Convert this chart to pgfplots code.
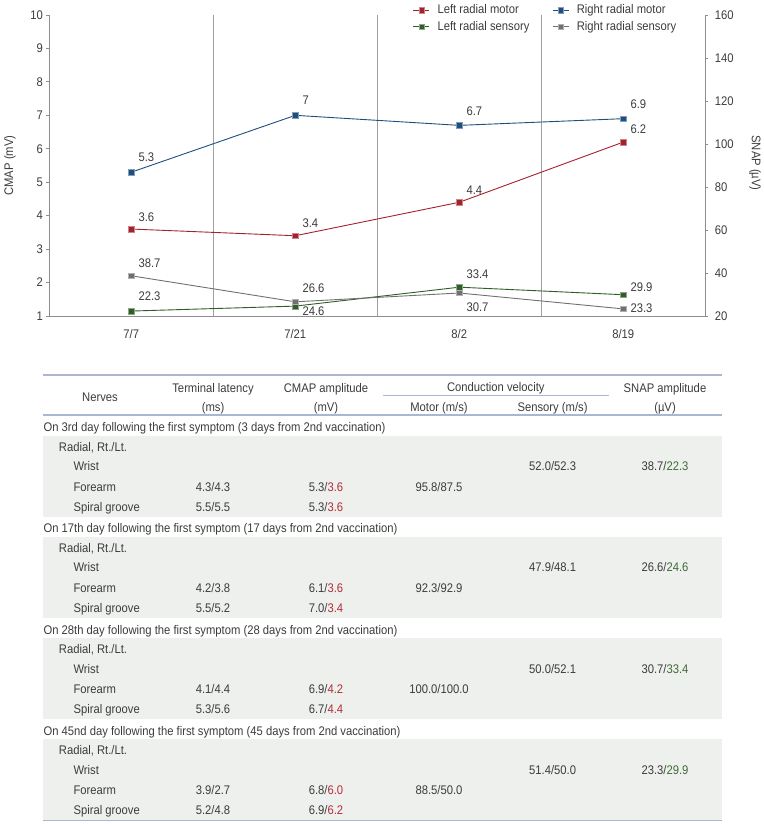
\documentclass[border=0pt]{standalone}
\usepackage{fontspec}
\setmainfont{Liberation Sans}[FakeStretch=0.9]
\usepackage{pgfplots}
\pgfplotsset{compat=1.18}
\usepackage{pgfplotstable}
\definecolor{txt}{HTML}{3C3C3C}
\definecolor{cred}{HTML}{A3222C}
\definecolor{cblue}{HTML}{1F4E80}
\definecolor{cgreen}{HTML}{2F5E27}
\definecolor{cgray}{HTML}{707070}
\definecolor{axisgray}{HTML}{8E8E8E}
\definecolor{gridgray}{HTML}{A0A0A0}
\definecolor{rulec}{HTML}{A7B8D0}
\definecolor{band}{HTML}{EEF0EE}
\definecolor{tred}{HTML}{B0303A}
\definecolor{tgreen}{HTML}{3F6B36}
\newcommand\cf{\fontsize{12.5}{15}\selectfont}
\newcommand\R[1]{\textcolor{tred}{#1}}
\newcommand\G[1]{\textcolor{tgreen}{#1}}

\pgfplotstableread{
x y lbl dy
0 3.6 3.6 12
1 3.4 3.4 13
2 4.4 4.4 12
3 6.2 6.2 13
}\leftmotor
\pgfplotstableread{
x y lbl dy
0 5.3 5.3 15
1 7.0 7 15
2 6.7 6.7 14
3 6.9 6.9 14
}\rightmotor
\pgfplotstableread{
x y lbl dy
0 22.3 22.3 15
1 24.6 24.6 -5
2 33.4 33.4 13
3 29.9 29.9 8
}\leftsens
\pgfplotstableread{
x y lbl dy
0 38.7 38.7 13
1 26.6 26.6 14
2 30.7 30.7 -14
3 23.3 23.3 1
}\rightsens

\newcommand\sect[9]{%
\fill[band] (43.3pt,{-(#1+8.6)*1pt}) rectangle (722pt,{-(#1+89.2)*1pt});
\node[T,anchor=base west] at (43.3pt,{-(#1+4.3)*1pt}) {#2};
\node[T,anchor=base west] at (58.7pt,{-(#1+23.7)*1pt}) {Radial, Rt./Lt.};
\node[T,anchor=base west] at (73.3pt,{-(#1+43.5)*1pt}) {Wrist};
\node[T,anchor=base west] at (73.3pt,{-(#1+63.7)*1pt}) {Forearm};
\node[T,anchor=base west] at (73.3pt,{-(#1+83.9)*1pt}) {Spiral groove};
\node[T,anchor=base] at (552.6pt,{-(#1+43.5)*1pt}) {#8};
\node[T,anchor=base] at (665pt,{-(#1+43.5)*1pt}) {#9};
\node[T,anchor=base] at (213pt,{-(#1+63.7)*1pt}) {#3};
\node[T,anchor=base] at (326pt,{-(#1+63.7)*1pt}) {#5};
\node[T,anchor=base] at (439pt,{-(#1+63.7)*1pt}) {#7};
\node[T,anchor=base] at (213pt,{-(#1+83.9)*1pt}) {#4};
\node[T,anchor=base] at (326pt,{-(#1+83.9)*1pt}) {#6};
}

\pgfplotsset{
  common/.style={
    at={(49.3pt,-316pt)}, anchor=south west, scale only axis,
    width=656pt, height=301pt, xmin=-0.5, xmax=3.5, clip=false,
    axis line style={-, draw=axisgray, line width=0.8pt},
    tick align=outside, major tick length=3pt,
    tick label style={font=\cf, text=txt},
    /pgf/number format/assume math mode=true,
  },
  ser/.style={color=#1, line width=0.9pt, mark=square*, mark size=2.7pt,
    mark options={fill=#1, draw=#1!55!white, line width=0.4pt}},
  lbls/.style={
    nodes near coords, point meta=explicit symbolic,
    visualization depends on={\thisrow{dy} \as \dy},
    nodes near coords style={anchor=west, inner sep=0pt, xshift=7pt, yshift=\dy,
      font=\cf, text=txt},
  },
}

\begin{document}
\begin{tikzpicture}[T/.style={font=\cf, text=txt, inner sep=0pt}]
\path[use as bounding box] (0pt,0pt) rectangle (763pt,-824pt);

% ---------------- chart ----------------
\begin{axis}[common,
  ymin=1, ymax=10,
  axis x line*=bottom, axis y line*=left,
  xtick={0,1,2,3}, xticklabels={7/7,7/21,8/2,8/19},
  x tick style={draw=none},
  xticklabel style={yshift=-6.6pt},
  extra x ticks={0.5,1.5,2.5}, extra x tick labels={},
  extra x tick style={grid=major, major grid style={draw=gridgray, line width=0.8pt}, tick style={draw=none}},
  ytick={1,2,...,10},
  y tick style={draw=axisgray, line width=0.8pt},
]
\addplot[ser=cred, lbls] table[x=x, y=y, meta=lbl] {\leftmotor};
\addplot[ser=cblue, lbls] table[x=x, y=y, meta=lbl] {\rightmotor};
\end{axis}

\begin{axis}[common,
  ymin=20, ymax=160,
  axis x line=none, axis y line*=right,
  ytick={20,40,...,160},
  y tick style={draw=axisgray, line width=0.8pt},
  yticklabel style={xshift=3pt},
  legend columns=2,
  legend cell align=left,
  legend image code/.code={\draw[mark repeat=2,mark phase=2,#1] plot coordinates {(0pt,0pt) (8pt,0pt) (16pt,0pt)};},
  legend style={at={(0.5544,1.0349)}, anchor=north west, draw=none, fill=none,
    inner sep=0pt, outer sep=0pt, font=\cf, text=txt, row sep=5.2pt,
    nodes={inner sep=0pt, text height=9pt, text depth=2.5pt},
    /tikz/every odd column/.append style={column sep=7.7pt},
    /tikz/every even column/.append style={column sep=22.7pt}},
]
\addlegendimage{ser=cred}
\addlegendentry{Left radial motor}
\addlegendimage{ser=cblue}
\addlegendentry{Right radial motor}
\addlegendimage{ser=cgreen}
\addlegendentry{Left radial sensory}
\addlegendimage{ser=cgray}
\addlegendentry{Right radial sensory}
\addplot[ser=cgreen, lbls, forget plot] table[x=x, y=y, meta=lbl] {\leftsens};
\addplot[ser=cgray, lbls, forget plot] table[x=x, y=y, meta=lbl] {\rightsens};
\end{axis}

\node[T, rotate=90] at (10pt,-165.5pt) {CMAP (mV)};
\node[T, rotate=-90] at (755pt,-163pt) {SNAP (µV)};

% ---------------- table ----------------
\draw[rulec, line width=1.5pt] (43.3pt,-375pt) -- (722pt,-375pt);
\node[T,anchor=base] at (213pt,-392pt) {Terminal latency};
\node[T,anchor=base] at (326pt,-392pt) {CMAP amplitude};
\node[T,anchor=base] at (495.8pt,-391pt) {Conduction velocity};
\node[T,anchor=base] at (665pt,-392pt) {SNAP amplitude};
\node[T,anchor=base] at (100pt,-401pt) {Nerves};
\draw[rulec, line width=0.9pt] (383pt,-395.5pt) -- (609pt,-395.5pt);
\node[T,anchor=base] at (213pt,-411pt) {(ms)};
\node[T,anchor=base] at (326pt,-411pt) {(mV)};
\node[T,anchor=base] at (439pt,-411pt) {Motor (m/s)};
\node[T,anchor=base] at (552.6pt,-411pt) {Sensory (m/s)};
\node[T,anchor=base] at (665pt,-411pt) {(µV)};
\draw[rulec, line width=1.3pt] (43.3pt,-415pt) -- (722pt,-415pt);

\sect{427.3}{On 3rd day following the first symptom (3 days from 2nd vaccination)}{4.3/4.3}{5.5/5.5}{5.3/\R{3.6}}{5.3/\R{3.6}}{95.8/87.5}{52.0/52.3}{38.7/\G{22.3}}
\sect{528.4}{On 17th day following the first symptom (17 days from 2nd vaccination)}{4.2/3.8}{5.5/5.2}{6.1/\R{3.6}}{7.0/\R{3.4}}{92.3/92.9}{47.9/48.1}{26.6/\G{24.6}}
\sect{629.8}{On 28th day following the first symptom (28 days from 2nd vaccination)}{4.1/4.4}{5.3/5.6}{6.9/\R{4.2}}{6.7/\R{4.4}}{100.0/100.0}{50.0/52.1}{30.7/\G{33.4}}
\sect{730.8}{On 45nd day following the first symptom (45 days from 2nd vaccination)}{3.9/2.7}{5.2/4.8}{6.8/\R{6.0}}{6.9/\R{6.2}}{88.5/50.0}{51.4/50.0}{23.3/\G{29.9}}
\draw[rulec, line width=1.5pt] (43.3pt,-820.5pt) -- (722pt,-820.5pt);
\end{tikzpicture}
\end{document}
